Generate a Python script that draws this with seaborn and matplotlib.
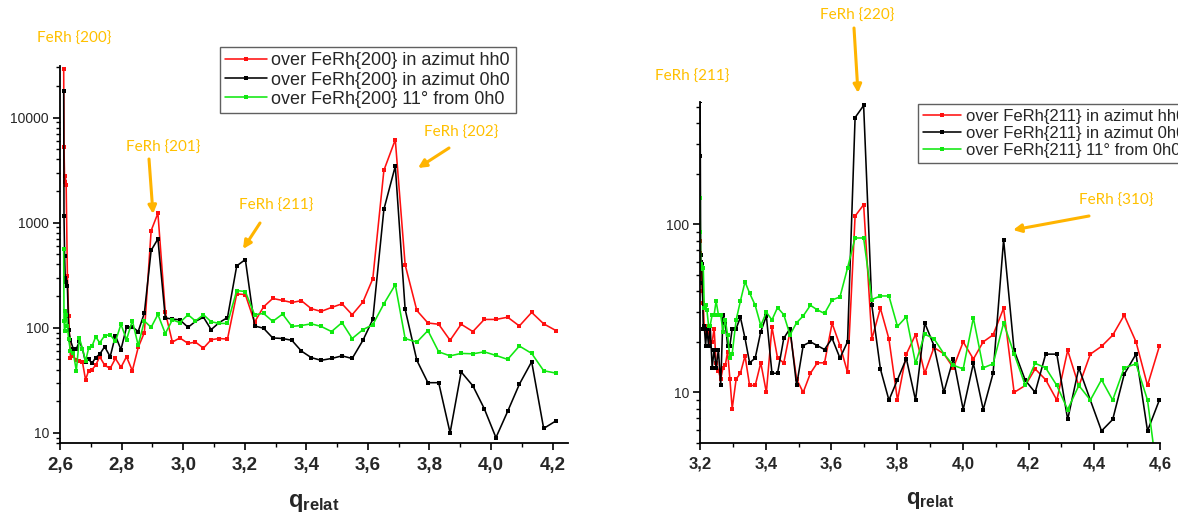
import numpy as np
import matplotlib
matplotlib.use("Agg")
import matplotlib.pyplot as plt
import seaborn as sns
from matplotlib.patches import FancyArrowPatch
from matplotlib.ticker import FixedLocator, LogLocator, NullFormatter, FuncFormatter

# ---------------- data: left panel (over FeRh{200}) ----------------
q_left = [2.612, 2.613, 2.615, 2.617, 2.620, 2.624, 2.628, 2.634, 2.643, 2.653,
          2.663, 2.673, 2.683, 2.693, 2.704, 2.716, 2.729, 2.745, 2.763, 2.780,
          2.798, 2.816, 2.835, 2.854, 2.874, 2.896, 2.918, 2.942, 2.965, 2.989,
          3.016, 3.040, 3.066, 3.091, 3.117, 3.144, 3.174, 3.202, 3.232, 3.261,
          3.291, 3.323, 3.353, 3.384, 3.416, 3.448, 3.482, 3.516, 3.549, 3.584,
          3.616, 3.652, 3.689, 3.721, 3.759, 3.795, 3.830, 3.867, 3.903, 3.941,
          3.978, 4.016, 4.054, 4.092, 4.132, 4.171, 4.211]
left_hh0 = [29300, 5200, 2450, 2780, 2300, 310, 130, 52, 54, 49,
            48, 47, 32, 39, 40, 44, 53, 44, 41, 51,
            42, 53, 39, 65, 90, 840, 1230, 140, 73, 80,
            71, 73, 64, 77, 79, 78, 210, 207, 113, 158,
            190, 182, 174, 181, 152, 143, 156, 169, 133, 176,
            293, 3150, 6170, 398, 146, 111, 108, 76, 108, 92,
            120, 120, 126, 104, 140, 109, 94]
left_0h0 = [17900, 1150, 480, 300, 270, 250, 96, 76, 63, 63,
            74, 63, 47, 50, 46, 52, 56, 66, 53, 84,
            62, 101, 102, 92, 138, 545, 700, 124, 121, 119,
            101, 115, 126, 96, 112, 125, 388, 446, 104, 99,
            80, 79, 76, 60, 52, 49, 51, 54, 51, 76,
            120, 1340, 3450, 150, 49, 30, 30, 10, 38, 28,
            17, 9, 16, 29, 47.5, 11, 13]
left_11deg = [560, 116, 93, 143, 131, 105, 78, 60, 58, 39,
              80, 63, 48, 64, 67, 82, 72, 84, 86, 74,
              108, 77, 117, 68, 116, 101, 134, 88, 119, 112,
              133, 116, 133, 114, 110, 110, 226, 221, 133, 137,
              115, 135, 103, 105, 109, 103, 92, 112, 79, 96,
              107, 169, 257, 79, 73, 94, 59, 54, 57, 56.5,
              59, 54.5, 50, 67, 57, 39, 37]
labels_left = ["over FeRh{200} in azimut hh0",
               "over FeRh{200} in azimut 0h0",
               "over FeRh{200} 11° from 0h0"]

# ---------------- data: right panel (over FeRh{211}) ----------------
q_right = [3.200, 3.201, 3.202, 3.203, 3.205, 3.207, 3.210, 3.213, 3.217, 3.221,
           3.226, 3.231, 3.237, 3.243, 3.249, 3.256, 3.263, 3.270, 3.277, 3.284,
           3.291, 3.298, 3.310, 3.323, 3.337, 3.351, 3.368, 3.385, 3.402, 3.419,
           3.436, 3.455, 3.474, 3.494, 3.514, 3.536, 3.557, 3.579, 3.602, 3.626,
           3.649, 3.672, 3.698, 3.723, 3.749, 3.775, 3.801, 3.828, 3.856, 3.884,
           3.912, 3.942, 3.971, 4.001, 4.032, 4.062, 4.092, 4.124, 4.156, 4.190,
           4.220, 4.252, 4.286, 4.319, 4.353, 4.388, 4.422, 4.456, 4.491, 4.527,
           4.562, 4.598]
right_hh0 = [80, 68, 50, 52, 47, 40, 34, 24, 23, 25,
             23, 20, 20, 24, 15, 13.5, 12, 14, 14.5, 17.5,
             12, 8, 12, 13, 16.5, 11, 11, 15, 10, 24.5,
             16, 15, 23, 12, 10, 13, 15, 15, 25.8, 19,
             13.2, 112, 131, 20.8, 31.7, 20.8, 9, 16.9, 22.1, 13,
             18.5, 17, 14, 20, 15.8, 20, 22, 31.7, 10, 11,
             13.8, 11.9, 9, 17.8, 10.9, 16.9, 18.8, 21.9, 28.8, 20,
             11, 18.8]
right_0h0 = [540, 256, 66, 60, 58, 45, 24, 25, 19, 24,
             19, 25, 14, 18, 14, 18, 11, 29, 26, 19,
             19, 24, 24, 28, 21, 15, 16, 23, 28.5, 13,
             13, 21, 24, 11, 19, 20, 19, 18, 21, 16,
             20, 432, 510, 33, 13.8, 9, 11.9, 15.9, 9, 25.9,
             19, 10, 15.9, 7.9, 14.9, 7.9, 13, 81, 17.8, 11.8,
             10, 16.9, 16.9, 6.9, 14, 9, 5.9, 6.9, 12.8, 16.9,
             5.9, 9]
right_11deg = [144, 90, 58, 56, 54.5, 56, 55, 32, 33, 31,
               25, 25, 29, 29, 35, 29, 29, 23, 27, 22,
               16, 17, 27, 35, 45.5, 39, 33, 25, 30, 27,
               32, 29, 22, 26, 28.5, 33, 31, 29.5, 35.5, 37,
               55, 83, 83, 35.7, 37.5, 37.5, 24.7, 28.2, 14.9, 22.2,
               20.9, 17, 14.5, 13.8, 27.8, 14, 14.8, 25.9, 17, 11,
               14.9, 14, 11, 7.9, 11, 9, 11.9, 9, 14, 14.8,
               9, 2.6]
labels_right = ["over FeRh{211} in azimut hh0",
                "over FeRh{211} in azimut 0h0",
                "over FeRh{211} 11° from 0h0"]

xticks_left = [2.6, 2.8, 3.0, 3.2, 3.4, 3.6, 3.8, 4.0, 4.2]
xticks_right = [3.2, 3.4, 3.6, 3.8, 4.0, 4.2, 4.4, 4.6]

# annotation texts (label, centre x px, centre y px)
peak_labels = [("FeRh {200}", 74, 39), ("FeRh {201}", 163, 148),
               ("FeRh {211}", 276, 206), ("FeRh {202}", 461, 133),
               ("FeRh {211}", 692, 77), ("FeRh {220}", 857, 16),
               ("FeRh {310}", 1116, 201)]
# arrows (tail x, tail y, head x, head y) in px
peak_arrows = [(149, 159, 153, 214), (260, 223, 243, 249), (449, 148, 418, 168),
               (854, 28, 858, 93), (1089, 216, 1013, 230)]

colors = ["#FF1010", "#000000", "#10E810"]

# ---------------- style ----------------
sns.set_style("ticks")
plt.rcParams["font.family"] = ["Liberation Sans", "DejaVu Sans"]
plt.rcParams["mathtext.fontset"] = "custom"
plt.rcParams["mathtext.bf"] = "Liberation Sans:bold"
plt.rcParams["mathtext.rm"] = "Liberation Sans"
plt.rcParams["mathtext.it"] = "Liberation Sans:italic"

W, H = 1178, 520
fig = plt.figure(figsize=(W / 100, H / 100), dpi=100)
fig.patch.set_facecolor("white")


def px_axes(l, t, r, b):
    return fig.add_axes([l / W, 1 - b / H, (r - l) / W, (b - t) / H])


def draw_panel(ax, q, series, labels, xlim, ylim, xticks, xlabsize,
               leg_xy, leg_size, qsize):
    for y, lab, c in zip(series, labels, colors):
        sns.lineplot(x=np.array(q), y=np.array(y), ax=ax, color=c, marker="s",
                     markersize=3.4, markeredgewidth=0, linewidth=1.15,
                     label=lab, estimator=None, sort=False)
    ax.set_yscale("log")
    ax.set_xlim(*xlim)
    ax.set_ylim(*ylim)
    ax.set_xticks(xticks)
    ax.set_xticklabels([f"{v:.1f}".replace(".", ",") for v in xticks],
                       fontweight="bold", fontsize=xlabsize)
    minor = [round(v + 0.1, 2) for v in xticks[:-1]]
    ax.xaxis.set_minor_locator(FixedLocator(minor))
    ax.yaxis.set_major_locator(LogLocator(base=10, numticks=12))
    ax.yaxis.set_major_formatter(FuncFormatter(lambda v, p: f"{v:g}"))
    ax.yaxis.set_minor_locator(LogLocator(base=10, subs=np.arange(2, 10), numticks=12))
    ax.yaxis.set_minor_formatter(NullFormatter())
    ax.tick_params(axis="x", which="major", length=5, width=1.2, direction="out", pad=5, color="black")
    ax.tick_params(axis="x", which="minor", length=3, width=1.0, direction="out", color="black")
    ax.tick_params(axis="y", which="major", length=5, width=1.2, direction="out", pad=3,
                   labelsize=10, color="black")
    ax.tick_params(axis="y", which="minor", length=2.6, width=1.0, direction="out", color="black")
    sns.despine(ax=ax)
    for s in ("left", "bottom"):
        ax.spines[s].set_linewidth(1.3)
        ax.spines[s].set_color("black")
    ax.set_ylabel("")
    ax.set_xlabel(r"$\mathbf{q}_{\mathbf{relat}}$", fontsize=qsize, labelpad=13)
    leg = ax.legend(loc="upper left", bbox_to_anchor=(leg_xy[0] / W, 1 - leg_xy[1] / H),
                    bbox_transform=fig.transFigure, borderaxespad=0, fontsize=leg_size,
                    frameon=True, fancybox=False, framealpha=1, borderpad=0.3,
                    labelspacing=0.12, handlelength=2.3, handletextpad=0.25)
    leg.get_frame().set_edgecolor("#606060")
    leg.get_frame().set_linewidth(1.0)


axL = px_axes(60, 66, 568, 443)
axR = px_axes(700, 102, 1160, 443)

draw_panel(axL, q_left, [left_hh0, left_0h0, left_11deg], labels_left,
           (2.6, 4.25), (8, 31000), xticks_left, 13.5, (220, 47), 13, 17)
draw_panel(axR, q_right, [right_hh0, right_0h0, right_11deg], labels_right,
           (3.2, 4.6), (5, 535), xticks_right, 12, (918, 104), 12, 16)

for s, x, y in peak_labels:
    fig.text(x / W, 1 - y / H, s, ha="center", va="center", color="#FFC000",
             fontsize=11, family=["Lato", "DejaVu Sans"])

for x1, y1, x2, y2 in peak_arrows:
    fig.add_artist(FancyArrowPatch((x1 / W, 1 - y1 / H), (x2 / W, 1 - y2 / H),
                                   transform=fig.transFigure, arrowstyle="-|>",
                                   mutation_scale=12, color="#FFB400", lw=2.2,
                                   shrinkA=0, shrinkB=0))

fig.savefig("out.png", dpi=100, facecolor="white")
